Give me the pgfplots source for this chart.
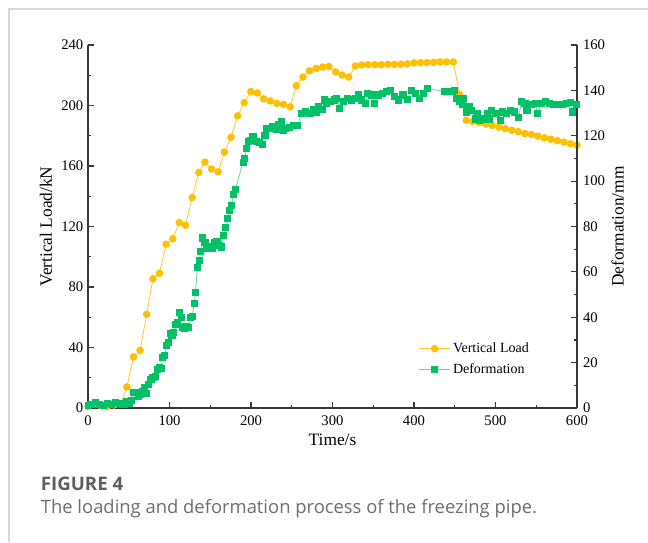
\documentclass[border=0pt]{standalone}
\usepackage{fontspec}
\setmainfont{Liberation Serif}
\newfontfamily\capfont{Open Sans}
\usepackage{pgfplots}
\pgfplotsset{compat=1.18}
\definecolor{ld}{RGB}{255,192,0}
\definecolor{ldl}{RGB}{255,200,40}
\definecolor{df}{RGB}{0,192,104}
\definecolor{dfl}{RGB}{90,220,155}
\definecolor{axc}{RGB}{55,55,55}
\definecolor{capg}{RGB}{95,95,95}
\definecolor{capt}{RGB}{110,110,110}
\definecolor{frameg}{RGB}{215,215,215}
\begin{document}
\begin{tikzpicture}
\path[use as bounding box] (0,0) rectangle (486pt,406.5pt);
\draw[frameg, line width=0.8pt] (6.75pt,0) -- (6.75pt,399.75pt) -- (486pt,399.75pt);
\pgfplotsset{
  myaxis/.style={
    scale only axis, width=366.75pt, height=272.25pt,
    at={(66pt,100.5pt)}, anchor=south west,
    xmin=0, xmax=600,
    tick align=inside,
    axis line style={-, line width=1.2pt, axc},
    major tick style={line width=0.9pt, axc},
    minor tick style={line width=0.9pt, axc},
    major tick length=4.5pt, minor tick length=2.5pt,
    tick label style={font=\fontsize{11}{12}\selectfont},
    label style={font=\fontsize{13}{15}\selectfont},
    /pgf/number format/assume math mode=true,
    clip=false,
  }
}
\begin{axis}[myaxis,
  axis x line*=bottom, axis y line*=left,
  ymin=0, ymax=240,
  xtick={0,100,...,600}, minor x tick num=1,
  ytick={0,40,...,240}, minor y tick num=1,
  xticklabel style={yshift=-2.5pt},
  xlabel={Time/s}, ylabel={Vertical Load/kN},
  xlabel style={yshift=1pt},
  ylabel style={yshift=0pt},
  legend style={at={(0.668,0.195)}, anchor=north west, draw=none, fill=none,
    font=\fontsize{10.5}{12}\selectfont, row sep=2.5pt},
  legend cell align=left,
  legend image code/.code={\draw[mark repeat=2,mark phase=2] plot coordinates {(0cm,0cm) (0.4cm,0cm) (0.8cm,0cm)};},
]
\addplot[ldl, line width=0.6pt, mark=*, mark size=2.5pt, mark options={ld, fill=ld, draw=none}] coordinates {
(0,1.0) (8,2.7) (16,1.5) (24,1.0) (32,2.0) (40,2.5) (47.7,13.9) (55.8,33.8) (63.9,38.1) (72,61.9) (79.6,85.4) (87.7,89.1) (95.8,108.3) (104,111.9) (112,122.6) (119.7,120.8) (127.8,139.1) (135.9,155.7) (143.5,162.6) (151.6,158.0) (159.7,156.2) (167.3,169.2) (175.5,179.0) (183.6,193.2) (191.7,201.9) (199.8,209.2) (207.9,208.3) (215.5,204.4) (223.6,203.0) (231.7,201.4) (239.9,200.7) (248,199.1) (255.6,213.1) (263.7,218.8) (271.8,222.9) (280,224.5) (288,225.4) (295.6,225.8) (303.8,222.2) (311.9,220.1) (320,218.8) (328,226.1) (335.7,226.8) (343.7,227) (351.8,227) (359.9,227) (368,227.2) (376,227.2) (384,227.3) (392,227.5) (400,228.2) (408,228.3) (416,228.4) (424,228.5) (432,228.8) (440,228.8) (448.3,228.8) (455.9,207.3) (464,190.2) (472,189.5) (480,188.8) (488,187.7) (496,186.8) (504,185.7) (512,184.7) (520,183.6) (528,182.7) (536,181.5) (544,180.9) (552,179.7) (560,178.6) (568,177.7) (576,176.7) (584,175.8) (592,174.7) (600,173.8)
};
\addlegendentry{Vertical Load}
\addlegendimage{dfl, line width=0.8pt, mark=square*, mark size=2.3pt, mark options={df, fill=df, draw=none}}
\addlegendentry{Deformation}
\end{axis}
\begin{axis}[myaxis,
  axis x line=none, axis y line*=right,
  ymin=0, ymax=160,
  ytick={0,20,...,160}, minor y tick num=1,
  yticklabel style={xshift=1pt},
  ylabel={Deformation/mm},
  ylabel style={yshift=2pt},
]
\addplot[dfl, line width=0.6pt, mark=square*, mark size=2.3pt, mark options={df, fill=df, draw=none}] coordinates {
(0,1.0) (3.5,1.5) (8.6,2.5) (13.7,1.5) (18.8,1.0) (23.8,2.0) (28.9,1.5) (34,2.5) (39,2.0) (44.1,1.5) (46.7,3.0) (50.2,2.0) (53.2,3.5) (55.8,6.7) (59.3,7.0) (61.9,5.0) (64.4,6.0) (66.9,7.5) (69.5,9.0) (72,6.4) (74.5,10.5) (77.1,12.5) (79.6,13.5) (82.2,14) (84.7,17) (87.2,18) (89.8,17.5) (91.3,22.4) (93.8,23) (96.3,27.7) (98.9,29) (100.9,33) (102.9,32) (105,33.5) (107.5,37) (110,37.5) (112.6,42) (114.1,40) (116.1,35.5) (118.2,35) (120.2,36) (122.7,35.5) (125.3,40) (127.8,40.5) (130.3,46) (131.8,51) (134.4,62) (136.4,65) (138.4,69) (140.5,75) (143.5,73) (145.5,70.5) (148.1,70.5) (150.6,71) (153.1,70.5) (155.7,73) (158.2,73.5) (160.8,71.8) (163.3,71) (165.8,76) (168.4,79.5) (170.9,83.7) (173.4,87) (176,89.4) (178.5,94) (181,96.5) (190.2,108.4) (192.2,110) (194.7,114.5) (197.3,117.5) (199.3,118) (202.3,119.8) (206.4,117.5) (210.4,117) (214.5,116) (217,120.3) (219.1,123.3) (222.6,123.3) (226.7,123.9) (230.7,122.8) (234.3,124.8) (236.8,126.4) (239.4,122.4) (241.9,123.3) (247,123.6) (252,124.4) (257.1,124.6) (262.2,129.7) (267.2,130.5) (272.3,129.7) (276.4,131.5) (279.9,130.5) (282.5,133) (287.5,131.5) (290.1,135.8) (292.6,134.3) (297.7,135) (302.7,135.8) (305.3,136.6) (308.8,132) (312.9,135) (318,136.6) (323,135.8) (328.1,136.6) (332.2,138) (335.7,135.8) (340.8,134.3) (343.3,138.8) (348.4,138) (350.9,134.3) (356,138) (361.1,138.8) (366.1,139.6) (371.2,140) (376.3,137.3) (381.3,135.8) (386.4,138) (391.5,136) (396.6,140) (401.6,138.8) (406.7,136.6) (411.8,138.8) (416.8,140.7) (437.1,139.6) (442.2,139.6) (447.3,139.6) (449.8,140) (452.4,136.6) (455.9,135) (458.9,134) (460.9,136.6) (464,130.5) (467.4,132.7) (470.1,131.2) (475.1,127.4) (477.7,129.7) (480.2,126.7) (485.3,127.4) (490.4,129.7) (492.9,127.4) (495.4,131.2) (500.5,129.7) (505.6,126.7) (508.1,130.5) (513.2,129.7) (518.3,131.2) (523.3,130.5) (528.4,128.2) (532,135) (536,134.3) (538.6,131.2) (543.6,133.8) (548.7,134.3) (551.2,130) (556.3,134.3) (561.4,135) (566.4,134.3) (571.5,133.8) (576.6,134) (581.6,134) (586.7,134.3) (591.7,134.6) (594.3,130.5) (599.4,134)
};
\end{axis}
\node[anchor=base west, inner sep=0, capg] at (30.5pt,39pt) {\capfont\bfseries\fontsize{14}{16}\selectfont FIGURE 4};
\node[anchor=base west, inner sep=0, capt] at (30.5pt,21.75pt) {\capfont\fontsize{13.8}{16}\selectfont The loading and deformation process of the freezing pipe.};
\end{tikzpicture}
\end{document}
